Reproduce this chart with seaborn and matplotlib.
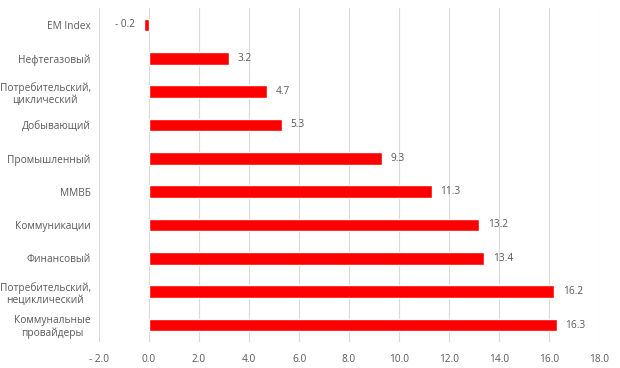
import matplotlib
matplotlib.use('Agg')
import matplotlib.pyplot as plt
import seaborn as sns
import pandas as pd

# %% podaci

categories = ['EM Index', 'Нефтегазовый', 'Потребительский,\nциклический', 'Добывающий',
              'Промышленный', 'ММВБ', 'Коммуникации', 'Финансовый',
              'Потребительский,\nнециклический', 'Коммунальные\nпровайдеры']
values = [-0.2, 3.2, 4.7, 5.3, 9.3, 11.3, 13.2, 13.4, 16.2, 16.3]
xticks = [-2.0, 0.0, 2.0, 4.0, 6.0, 8.0, 10.0, 12.0, 14.0, 16.0, 18.0]

df = pd.DataFrame({'cat': categories, 'val': values})

# %% grafik

sns.set_style('white')
plt.rcParams['font.family'] = ['Open Sans', 'DejaVu Sans']
txt = '#595959'

fig = plt.figure(figsize=(6.2, 3.68), dpi=100)
ax = fig.add_axes([0.1597, 0.0715, 0.8065, 0.906])

sns.barplot(data=df, x='val', y='cat', orient='h', color='#FF0000',
            width=0.38, saturation=1, ax=ax, zorder=3)

ax.set_xlim(-2, 18)
ax.set_xticks(xticks)
ax.set_xticklabels([('- %.1f' % abs(t)) if t < 0 else '%.1f' % t for t in xticks])
ax.grid(axis='x', color='#D9D9D9', linewidth=0.8, zorder=0)
ax.set_axisbelow(True)
for s in ax.spines.values():
    s.set_visible(False)
ax.set_xlabel('')
ax.set_ylabel('')
ax.tick_params(axis='both', length=0, labelsize=7.3, colors=txt)
ax.tick_params(axis='y', pad=6)
ax.tick_params(axis='x', pad=9)
for lab in ax.get_yticklabels():
    lab.set_horizontalalignment('right')
    lab.set_multialignment('center')

for i, v in enumerate(values):
    if v < 0:
        ax.text(v - 0.35, i, '- %.1f' % abs(v), ha='right', va='center', fontsize=7.3, color=txt)
    else:
        ax.text(v + 0.35, i, '%.1f' % v, ha='left', va='center', fontsize=7.3, color=txt)

plt.savefig('out.png', dpi=100)
